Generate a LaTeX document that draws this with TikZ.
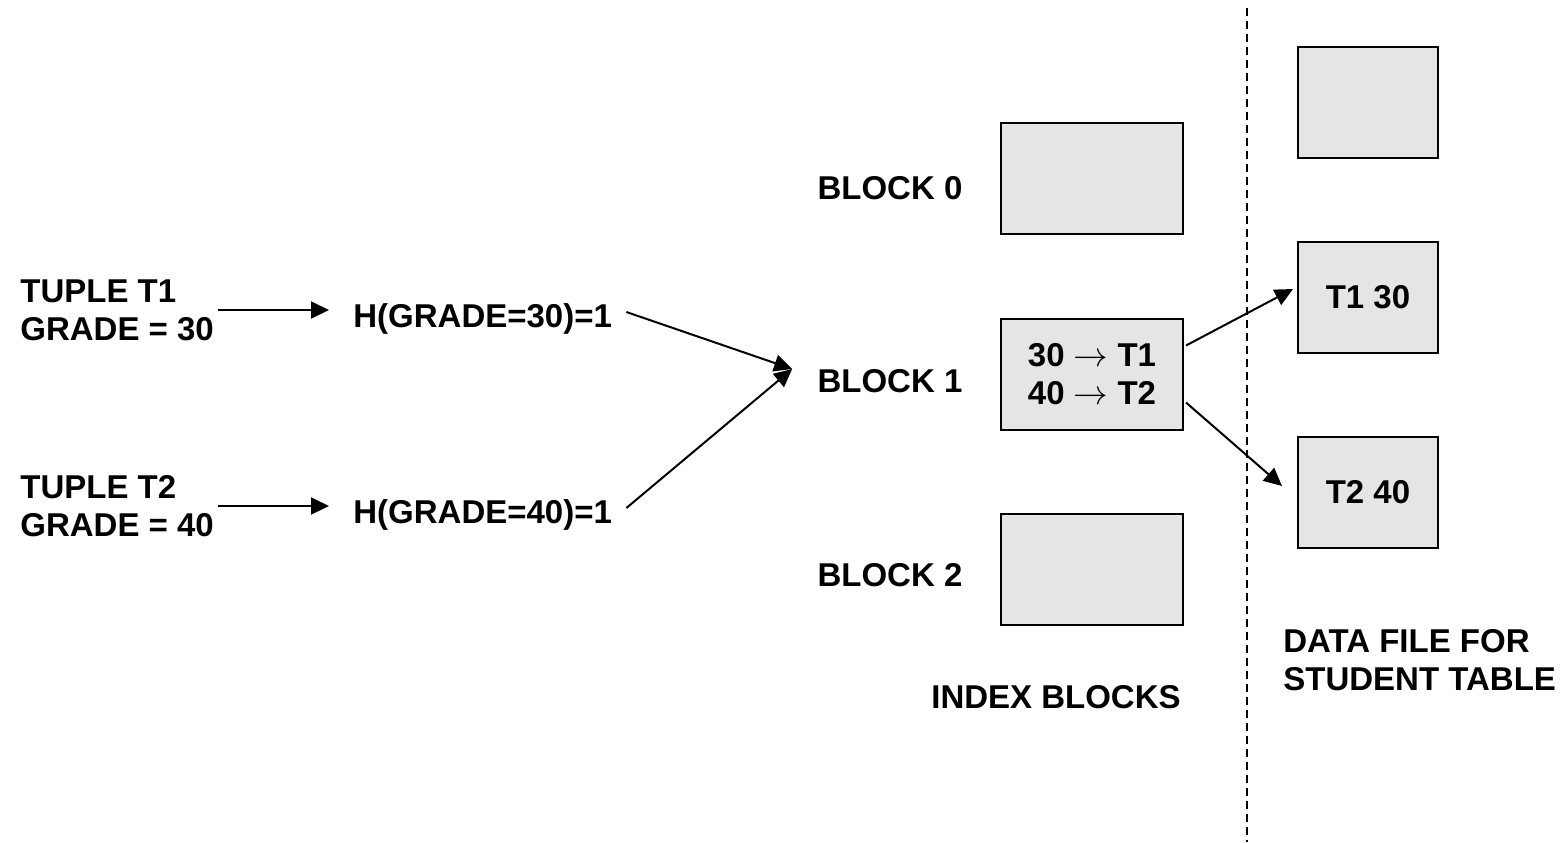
\documentclass[tikz,border=0pt]{standalone}
\usepackage{fontspec}
\setmainfont{Liberation Sans}
\usetikzlibrary{arrows.meta,calc}
\begin{document}
\begin{tikzpicture}[x=0.5pt,y=-0.5pt,
  lbl/.style={font=\fontsize{16.5}{19}\selectfont\bfseries, inner sep=0pt, align=left},
  blk/.style={draw, line width=1pt, fill=black!10, minimum width=91pt, minimum height=55.5pt, inner sep=0pt, font=\fontsize{16.5}{19}\selectfont\bfseries, align=left},
  dblk/.style={blk, minimum width=70pt},
  arr/.style={line width=1pt, -{Triangle[length=9pt,width=8.5pt]}}]
\useasboundingbox (0,0) rectangle (1560,842);
% left texts
\node[lbl, anchor=west] (t1) at (20,310) {TUPLE T1\\GRADE = 30};
\node[lbl, anchor=west] (t2) at (20,506) {TUPLE T2\\GRADE = 40};
\node[lbl, anchor=west] (h1) at (353,319) {H(GRADE=30)=1};
\node[lbl, anchor=west] (h2) at (353,515) {H(GRADE=40)=1};
% block labels
\node[lbl] (l0) at (890,188) {BLOCK 0};
\node[lbl] (l1) at (890,381) {BLOCK 1};
\node[lbl] (l2) at (890,575) {BLOCK 2};
% index blocks
\node[blk] (b0) at (1092,178.5) {};
\node[blk] (b1) at (1092,374) {30 $\rightarrow$ T1\\40 $\rightarrow$ T2};
\node[blk] (b2) at (1092,569.5) {};
\node[lbl] (ix) at (1056,697) {INDEX BLOCKS};
% data blocks
\node[dblk] (d0) at (1368,102.5) {};
\node[dblk] (d1) at (1368,297.5) {T1 30};
\node[dblk] (d2) at (1368,492.5) {T2 40};
\node[lbl, anchor=west] (df) at (1283,660) {DATA FILE FOR\\STUDENT TABLE};
% dashed separator
\coordinate (s0) at (1247,8);
\coordinate (s1) at (1247,842);
\draw[line width=1pt, dash pattern=on 4pt off 2.5pt] (s0) -- (s1);
% connectors
\draw[arr] ($(t1.east)+(4,0)$) -- ($(t1.east -| h1.west)+(-24,0)$);
\draw[arr] ($(t2.east)+(4,0)$) -- ($(t2.east -| h2.west)+(-24,0)$);
\coordinate (m) at ($(l1.west)+(-25,-12)$);
\draw[arr] ($(h1.east)+(14,-7)$) -- (m);
\draw[arr] ($(h2.east)+(14,-7)$) -- (m);
\draw[arr] ($(b1.north east)+(2,28)$) -- ($(d1.north west)+(-4,48)$);
\draw[arr] ($(b1.south east)+(2,-28)$) -- ($(d2.north west)+(-15,50)$);
\end{tikzpicture}
\end{document}
